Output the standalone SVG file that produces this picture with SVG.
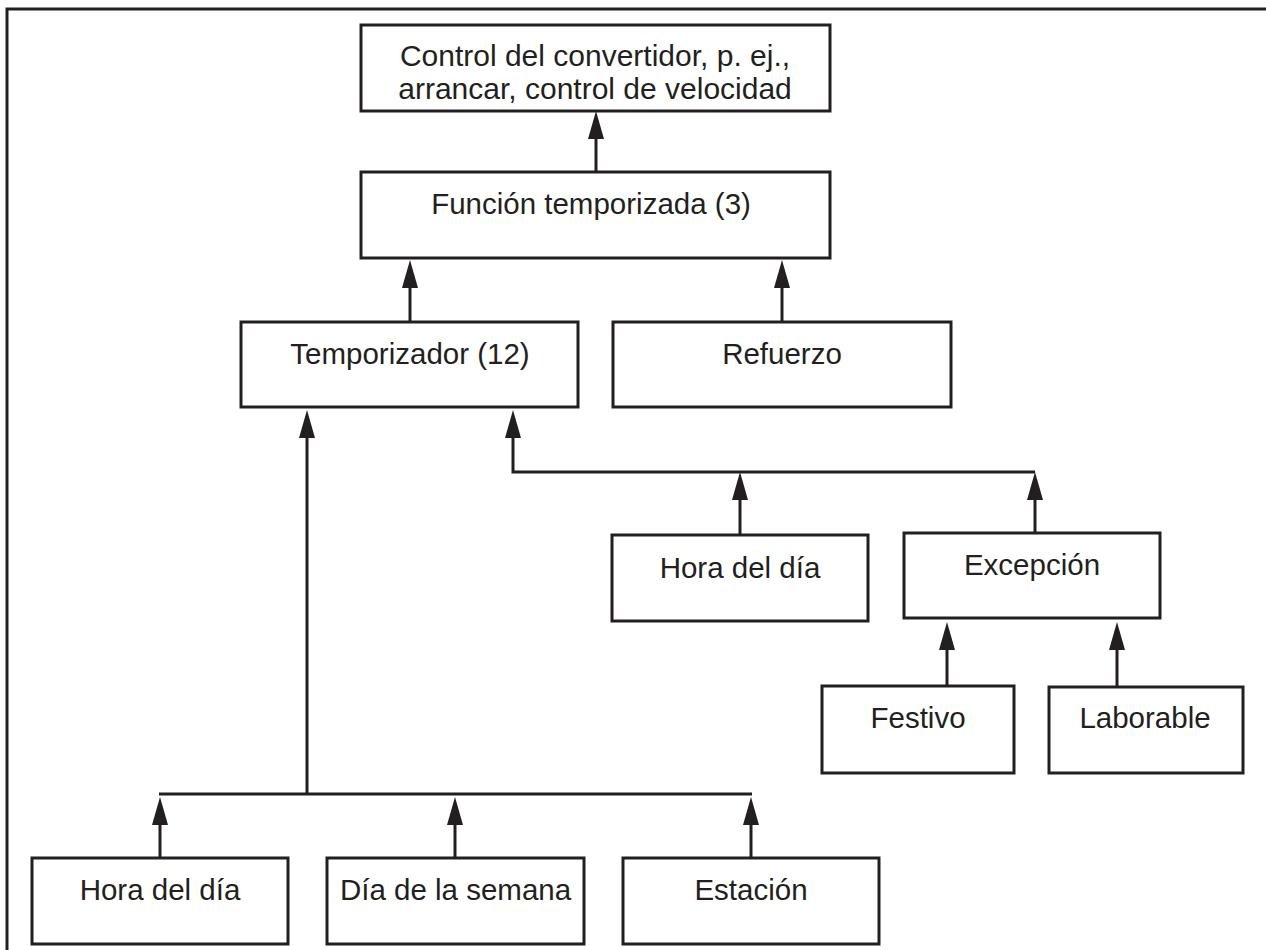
<svg xmlns="http://www.w3.org/2000/svg" width="1266" height="950" viewBox="0 0 1266 950">
<style>
.box{fill:#fff;stroke:#231f20;stroke-width:3}
.lbl{font-family:"Liberation Sans",Arial,sans-serif;font-size:29.5px;fill:#231f20;text-anchor:middle}
.big{font-size:30px}
.con{fill:none;stroke:#231f20;stroke-width:3}
</style>
<defs>
<marker id="ah" markerUnits="userSpaceOnUse" markerWidth="30" markerHeight="18" viewBox="0 -9 30 18" refX="0" refY="0" orient="auto">
<path d="M0,-8 L28,0 L0,8 Z" fill="#231f20"/>
</marker>
</defs>
<rect width="1266" height="950" fill="#fff"/>
<path class="con" d="M7,950 V9 H1266"/>
<g id="n-control"><rect class="box" x="361" y="25" width="469" height="86"/><text class="lbl big" x="595" y="66">Control del convertidor, p. ej.,</text><text class="lbl big" x="595" y="99">arrancar, control de velocidad</text></g>
<g id="n-funcion"><rect class="box" x="361" y="172" width="469" height="86"/><text class="lbl" x="591" y="214">Función temporizada (3)</text></g>
<g id="n-temporizador"><rect class="box" x="241" y="322" width="337" height="85"/><text class="lbl" x="410" y="364">Temporizador (12)</text></g>
<g id="n-refuerzo"><rect class="box" x="613" y="322" width="338" height="85"/><text class="lbl" x="782" y="364">Refuerzo</text></g>
<g id="n-hora1"><rect class="box" x="612" y="535" width="256" height="86"/><text class="lbl" x="740" y="578">Hora del día</text></g>
<g id="n-excepcion"><rect class="box" x="904" y="533" width="256" height="85"/><text class="lbl" x="1032" y="575">Excepción</text></g>
<g id="n-festivo"><rect class="box" x="822" y="686" width="192" height="87"/><text class="lbl" x="918" y="728">Festivo</text></g>
<g id="n-laborable"><rect class="box" x="1049" y="687" width="194" height="86"/><text class="lbl" x="1145" y="728">Laborable</text></g>
<g id="n-hora2"><rect class="box" x="32" y="858" width="256" height="86"/><text class="lbl" x="160" y="900">Hora del día</text></g>
<g id="n-dia"><rect class="box" x="327" y="858" width="257" height="86"/><text class="lbl" x="455.5" y="900">Día de la semana</text></g>
<g id="n-estacion"><rect class="box" x="623" y="858" width="256" height="86"/><text class="lbl" x="751" y="900">Estación</text></g>
<g id="connectors">
<path class="con" d="M596,172 V139" marker-end="url(#ah)"/>
<path class="con" d="M410,322 V288" marker-end="url(#ah)"/>
<path class="con" d="M782,322 V288" marker-end="url(#ah)"/>
<path class="con" d="M307,794 V438" marker-end="url(#ah)"/>
<path class="con" d="M1035,472 H513 V438" marker-end="url(#ah)"/>
<path class="con" d="M740,535 V500" marker-end="url(#ah)"/>
<path class="con" d="M1035,533 V500" marker-end="url(#ah)"/>
<path class="con" d="M947,686 V650" marker-end="url(#ah)"/>
<path class="con" d="M1117,687 V650" marker-end="url(#ah)"/>
<path class="con" d="M159,794 H752"/>
<path class="con" d="M160,858 V825" marker-end="url(#ah)"/>
<path class="con" d="M455,858 V825" marker-end="url(#ah)"/>
<path class="con" d="M751,858 V825" marker-end="url(#ah)"/>
</g>
</svg>
